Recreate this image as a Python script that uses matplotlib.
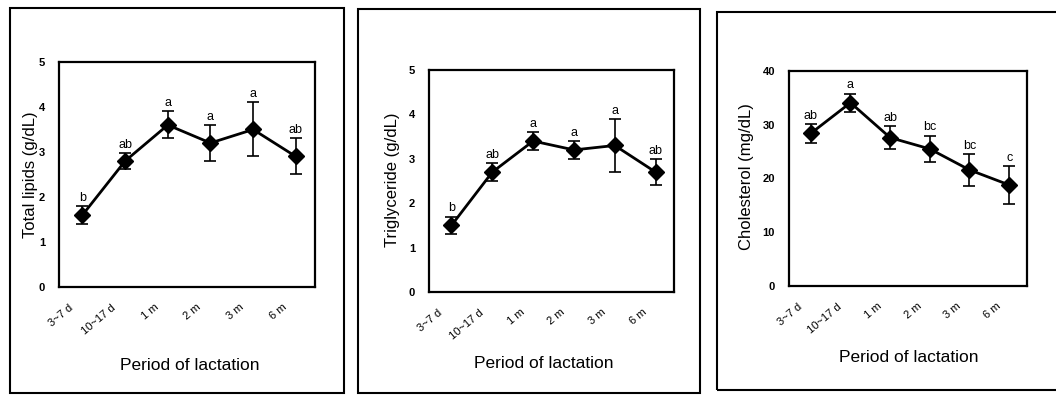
import matplotlib.pyplot as plt
from matplotlib.patches import Rectangle
import numpy as np

plt.rcParams['font.family'] = ['Liberation Sans', 'DejaVu Sans']

periods = ['3~7 d', '10~17 d', '1 m', '2 m', '3 m', '6 m']

lipids = [1.6, 2.8, 3.6, 3.2, 3.5, 2.9]
lipids_err = [0.2, 0.18, 0.3, 0.4, 0.6, 0.4]
lipids_let = ['b', 'ab', 'a', 'a', 'a', 'ab']

tg = [1.5, 2.7, 3.4, 3.2, 3.3, 2.7]
tg_err = [0.2, 0.2, 0.2, 0.2, 0.6, 0.3]
tg_let = ['b', 'ab', 'a', 'a', 'a', 'ab']

chol = [28.4, 34.1, 27.6, 25.5, 21.6, 18.8]
chol_err = [1.8, 1.7, 2.1, 2.5, 3.0, 3.5]
chol_let = ['ab', 'a', 'ab', 'bc', 'bc', 'c']

W, H = 1056, 403
fig = plt.figure(figsize=(W/100, H/100), dpi=100)

def px(l, t, r, b):
    return [l/W, 1-b/H, (r-l)/W, (b-t)/H]

# outer frames
for l, t, r, b in [(10, 8, 344, 393), (358, 9, 700, 393), (717, 12, 1070, 390)]:
    fig.patches.append(Rectangle((l/W, 1-b/H), (r-l)/W, (b-t)/H, transform=fig.transFigure,
                                 fill=False, lw=1.5, ec='black'))

panels = [
    (px(59, 62, 315, 287), lipids, lipids_err, lipids_let, 'Total lipids (g/dL)', 5, 1, 0.05, (30, 175), (190, 365)),
    (px(429, 70, 674, 292), tg, tg_err, tg_let, 'Triglyceride (g/dL)', 5, 1, 0.05, (392, 180), (544, 364)),
    (px(789, 71, 1027, 286), chol, chol_err, chol_let, 'Cholesterol (mg/dL)', 40, 10, 0.4, (746, 177), (909, 358)),
]

x = np.arange(6) + 0.55
for rect, vals, err, lets, ylab, ymax, ystep, off, ylpos, xlpos in panels:
    ax = fig.add_axes(rect)
    ax.errorbar(x, vals, yerr=err, color='black', lw=2, marker='D', markersize=8.5,
                capsize=4, elinewidth=1.2, capthick=1.2)
    for xi, v, e, s in zip(x, vals, err, lets):
        ax.text(xi, v + e + off, s, ha='center', va='bottom', fontsize=9)
    ax.set_xlim(0, 6)
    ax.set_ylim(0, ymax)
    ax.set_yticks(np.arange(0, ymax + ystep/2, ystep))
    ax.set_xticks(np.arange(6) + 0.22)
    ax.set_xticklabels(periods, rotation=40, ha='right', rotation_mode='anchor', fontsize=8)
    ax.tick_params(axis='both', length=0)
    ax.tick_params(axis='y', pad=10, labelsize=8)
    for lb in ax.get_yticklabels():
        lb.set_fontweight('bold')
    ax.tick_params(axis='x', pad=11)
    for sp in ax.spines.values():
        sp.set_linewidth(1.6)
    fig.text(ylpos[0]/W, 1-ylpos[1]/H, ylab, rotation=90, ha='center', va='center', fontsize=12)
    fig.text(xlpos[0]/W, 1-xlpos[1]/H, 'Period of lactation', ha='center', va='center', fontsize=12.5)

fig.savefig('out.png', dpi=100)
